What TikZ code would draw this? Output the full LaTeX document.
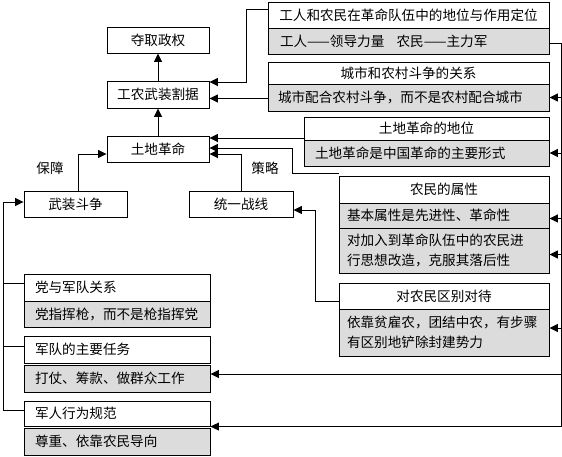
\documentclass[tikz,border=0pt]{standalone}
\usepackage{fontspec}
\usetikzlibrary{arrows.meta,calc}
\newfontfamily\cjk{Noto Sans CJK SC}
\definecolor{boxgray}{RGB}{220,220,220}
\newcommand{\fsz}{\fontsize{13.6}{20}\selectfont}
\begin{document}
\begin{tikzpicture}[x=1pt,y=-1pt,
  wbox/.style={draw, fill=white, line width=0.9pt, inner sep=0pt, font=\cjk\fsz},
  gbox/.style={wbox, fill=boxgray},
  arr/.style={line width=0.9pt, -{Triangle[length=8.5pt,width=8pt]}},
  ln/.style={line width=0.9pt},
  lbl/.style={font=\cjk\fsz, inner sep=0pt}]
\useasboundingbox (0,0) rectangle (562,456);
% centre column
\node[wbox, minimum width=102pt, minimum height=26pt] (power) at (158,40) {夺取政权};
\node[wbox, minimum width=102pt, minimum height=27pt] (base) at (158,94.5) {工农武装割据};
\node[wbox, minimum width=102pt, minimum height=26pt] (land) at (158,149.5) {土地革命};
\node[wbox, minimum width=103pt, minimum height=26pt] (armed) at (75.5,204.5) {武装斗争};
\node[wbox, minimum width=104pt, minimum height=26pt] (front) at (241,204.5) {统一战线};
\node[lbl] (baozhang) at (50,168) {保障};
\node[lbl] (celue) at (265,168) {策略};
% right boxes
\node[gbox, minimum width=281pt, minimum height=26pt, align=left, text width=257pt, inner xsep=12pt] (b1g) at (408.5,41) {工人——领导力量\hspace{0.9em}农民——主力军};
\node[wbox, minimum width=281pt, minimum height=26pt] (b1t) at (408.5,15) {工人和农民在革命队伍中的地位与作用定位};
\node[gbox, minimum width=281pt, minimum height=27pt, align=left, text width=261pt, inner xsep=10pt] (b2g) at (408.5,97.5) {城市配合农村斗争，而不是农村配合城市};
\node[wbox, minimum width=281pt, minimum height=22pt] (b2t) at (408.5,73) {城市和农村斗争的关系};
\node[gbox, minimum width=245pt, minimum height=26pt, align=left, text width=223pt, inner xsep=11pt] (b3g) at (426.5,153) {土地革命是中国革命的主要形式};
\node[wbox, minimum width=245pt, minimum height=23pt] (b3t) at (426.5,128.5) {土地革命的地位};
\node[gbox, minimum width=210pt, minimum height=45pt, align=left, text width=194pt, inner xsep=8pt] (b4g2) at (444,250.5) {对加入到革命队伍中的农民进\\行思想改造，克服其落后性};
\node[gbox, minimum width=210pt, minimum height=25pt, align=left, text width=194pt, inner xsep=8pt] (b4g1) at (444,215.5) {基本属性是先进性、革命性};
\node[wbox, minimum width=210pt, minimum height=27pt] (b4t) at (444,189.5) {农民的属性};
\node[gbox, minimum width=210pt, minimum height=47pt, align=left, text width=194pt, inner xsep=8pt] (b5g) at (444,332.5) {依靠贫雇农，团结中农，有步骤\\有区别地铲除封建势力};
\node[wbox, minimum width=210pt, minimum height=26pt] (b5t) at (444,296) {对农民区别对待};
% left boxes
\node[gbox, minimum width=186pt, minimum height=26pt, align=left, text width=164pt, inner xsep=11pt] (l1g) at (117,314) {党指挥枪，而不是枪指挥党};
\node[wbox, minimum width=186pt, minimum height=27pt, align=left, text width=164pt, inner xsep=11pt] (l1t) at (117,287.5) {党与军队关系};
\node[wbox, minimum width=186pt, minimum height=27pt, align=left, text width=164pt, inner xsep=11pt] (l2t) at (117,349.5) {军队的主要任务};
\node[gbox, minimum width=186pt, minimum height=27pt, align=left, text width=164pt, inner xsep=11pt] (l2g) at (117,378.5) {打仗、筹款、做群众工作};
\node[gbox, minimum width=186pt, minimum height=27pt, align=left, text width=164pt, inner xsep=11pt] (l3g) at (117,441.5) {尊重、依靠农民导向};
\node[wbox, minimum width=186pt, minimum height=25pt, align=left, text width=164pt, inner xsep=11pt] (l3t) at (117,413.5) {军人行为规范};
% trunks
\coordinate (T) at (561,0);
\coordinate (L) at (3,0);
% centre arrows
\draw[arr] (land.north) -- (base.south);
\draw[arr] (base.north) -- (power.south);
\draw[arr] ([xshift=2.5pt]armed.north) |- ([yshift=-4.5pt]land.west);
\draw[arr] (front.north) |- ([yshift=-4.5pt]land.east);
% right side to centre
\draw[arr] ([yshift=6pt]b1t.west) -- ++(-21,0) |- ([yshift=12.5pt]base.east);
\draw[arr] ([yshift=-1pt]b2g.west) -- ([yshift=-1pt]b2g.west -| base.east);
\draw[arr] ([yshift=-9.5pt]b3t.west) -- ([yshift=-9.5pt]b3t.west -| land.east);
\draw[arr] ([yshift=2pt]b4t.north west) -- ++(-46,0) |- ([yshift=1.5pt]land.east);
\draw[arr] ([yshift=-5pt]b5t.west) -- ++(-23,0) |- ([yshift=-5.5pt]front.east);
% right trunk
\coordinate (rt) at ([yshift=-2pt]b1g.east);
\coordinate (rb) at ([yshift=1pt]l3g.north east);
\draw[ln] (rt) -- (rt -| T) -- (rb -| T);
\draw[arr] (b2g.east -| T) -- (b2g.east);
\draw[arr] (b3g.east -| T) -- (b3g.east);
\draw[arr] ([yshift=-3pt]b4g1.east -| T) -- ([yshift=-3pt]b4g1.east);
\draw[arr] ([yshift=-4pt]b4g2.east -| T) -- ([yshift=-4pt]b4g2.east);
\draw[arr] ([yshift=4.5pt]b5g.east -| T) -- ([yshift=4.5pt]b5g.east);
\draw[arr] ([yshift=4.5pt]l2g.east -| T) -- ([yshift=4.5pt]l2g.east);
\draw[arr] (rb -| T) -- (rb);
% left trunk
\coordinate (q1) at ([yshift=4.5pt]l1t.west);
\coordinate (q2) at ([yshift=3.5pt]l2t.west);
\coordinate (q3) at ([yshift=3.5pt]l3t.west);
\draw[arr] (q3) -- (q3 -| L) |- ([yshift=2.5pt]armed.west);
\draw[ln] (q1) -- (q1 -| L);
\draw[ln] (q2) -- (q2 -| L);
\end{tikzpicture}
\end{document}
